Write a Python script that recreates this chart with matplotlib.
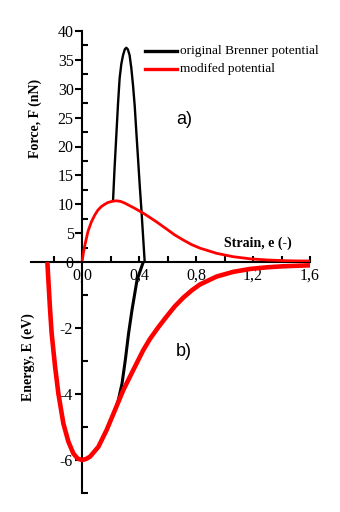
import matplotlib.pyplot as plt

# force, original Brenner
strain_fb = [0.218, 0.228, 0.241, 0.253, 0.264, 0.276, 0.288, 0.300, 0.311, 0.322,
             0.334, 0.346, 0.358, 0.370, 0.381, 0.393, 0.405, 0.417, 0.428, 0.440]
force_fb = [10.7, 16.0, 22.0, 27.5, 31.8, 34.3, 35.8, 36.8, 37.1, 36.8,
            35.8, 33.6, 30.6, 27.0, 22.6, 18.0, 13.3, 9.0, 4.7, 0.0]

# force, modified
strain_fm = [0.0, 0.01, 0.02, 0.042, 0.065, 0.089, 0.112, 0.136, 0.16, 0.182, 0.21, 0.241,
             0.27, 0.30, 0.37, 0.44, 0.52, 0.594, 0.65, 0.711, 0.77, 0.828, 0.945,
             1.06, 1.18, 1.30, 1.41, 1.50, 1.60]
force_fm = [0.0, 1.6, 2.9, 5.3, 6.9, 8.1, 9.0, 9.6, 10.0, 10.3, 10.5, 10.6,
            10.5, 10.2, 9.3, 8.3, 7.0, 5.7, 4.7, 3.8, 3.0, 2.4, 1.5,
            0.92, 0.55, 0.35, 0.24, 0.19, 0.17]

# energy, original Brenner
strain_eb = [0.232, 0.25, 0.281, 0.304, 0.327, 0.351, 0.386, 0.43]
energy_eb = [-4.48, -4.28, -3.68, -2.97, -2.16, -1.45, -0.55, 0.0]

# energy, modified
strain_em = [-0.243, -0.236, -0.224, -0.213, -0.189, -0.166, -0.131, -0.096, -0.061, -0.03,
             0.0, 0.028, 0.056, 0.115, 0.173, 0.232, 0.29, 0.36, 0.43, 0.477, 0.535,
             0.594, 0.65, 0.711, 0.77, 0.828, 0.945, 1.06, 1.18, 1.30, 1.41, 1.60]
energy_em = [0.0, -0.55, -1.45, -2.16, -3.17, -3.98, -4.89, -5.44, -5.8, -5.96,
             -6.0, -5.97, -5.9, -5.6, -5.09, -4.48, -3.88, -3.27, -2.67, -2.33, -1.98,
             -1.65, -1.35, -1.08, -0.86, -0.68, -0.44, -0.3, -0.21, -0.16, -0.13, -0.1]

xticks = [0.0, 0.4, 0.8, 1.2, 1.6]
xticklabels = ['0,0', '0,4', '0,8', '1,2', '1,6']

serif = 'Liberation Serif'

fig = plt.figure(figsize=(3.4, 5.12), dpi=100)
x0 = 30.7 / 340
w = (310 - 30.7) / 340
ax1 = fig.add_axes([x0, 1 - 262 / 512, w, 231 / 512])
ax2 = fig.add_axes([x0, 19 / 512, w, 231 / 512])
ax2.patch.set_alpha(0)

# a) force
ax1.plot(strain_fm, force_fm, color='red', lw=2.0, zorder=3)
ax1.plot(strain_fb, force_fb, color='black', lw=1.7, zorder=2)
ax1.set_xlim(-0.36, 1.6)
ax1.set_ylim(0, 40)
for s in ['top', 'right']:
    ax1.spines[s].set_visible(False)
ax1.spines['left'].set_position(('data', 0))
ax1.spines['left'].set_linewidth(1.5)
ax1.spines['bottom'].set_linewidth(1.5)
ax1.set_yticks(range(0, 41, 5))
ax1.set_yticks([2.5 + 5 * i for i in range(8)], minor=True)
ax1.set_xticks(xticks)
ax1.set_xticklabels(xticklabels)
ax1.set_xticks([-0.2, 0.2, 0.6, 1.0, 1.4], minor=True)
ax1.tick_params(axis='y', which='major', direction='out', length=5, width=1.5, pad=1,
                labelsize=11.5)
ax1.tick_params(axis='y', which='minor', direction='in', length=4, width=1.5)
ax1.tick_params(axis='x', which='both', direction='in', length=4, width=1.5, pad=4,
                labelsize=11.5)
for lab in ax1.get_xticklabels() + ax1.get_yticklabels():
    lab.set_family(serif)
ax1.text(-0.33, 24.9, 'Force, F (nN)', rotation=90, ha='center', va='center',
         family=serif, fontweight='bold', fontsize=10)
ax1.text(1.235, 3.2, 'Strain, e (-)', ha='center', va='center',
         family=serif, fontweight='bold', fontsize=10)
ax1.text(0.715, 24.6, 'a)', ha='center', va='center', family='Liberation Sans', fontsize=13)
ax1.plot([0.44, 0.665], [36.6, 36.6], color='black', lw=2.4, clip_on=False)
ax1.plot([0.44, 0.665], [33.5, 33.5], color='red', lw=2.4, clip_on=False)
ax1.text(0.685, 36.6, 'original Brenner potential', va='center', family=serif, fontsize=9.6)
ax1.text(0.685, 33.5, 'modifed potential', va='center', family=serif, fontsize=9.6)

# b) energy
ax2.plot(strain_eb, energy_eb, color='black', lw=2.2, zorder=2)
ax2.plot(strain_em, energy_em, color='red', lw=3.3, zorder=3)
ax2.set_xlim(-0.36, 1.6)
ax2.set_ylim(-7, 0)
for s in ['top', 'right', 'bottom']:
    ax2.spines[s].set_visible(False)
ax2.spines['left'].set_position(('data', 0))
ax2.spines['left'].set_linewidth(1.5)
ax2.set_xticks([])
ax2.set_yticks([-6, -4, -2])
ax2.set_yticklabels(['-6', '-4', '-2'])
ax2.set_yticks([-7, -5, -3, -1], minor=True)
ax2.tick_params(axis='y', which='major', direction='out', length=5, width=1.5, pad=2,
                labelsize=11.5)
ax2.tick_params(axis='y', which='minor', direction='in', length=4, width=1.5)
for lab in ax2.get_yticklabels():
    lab.set_family(serif)
ax2.text(-0.38, -2.88, 'Energy, E (eV)', rotation=90, ha='center', va='center',
         family=serif, fontweight='bold', fontsize=10)
ax2.text(0.715, -2.7, 'b)', ha='center', va='center', family='Liberation Sans', fontsize=13)

fig.savefig('out.png', dpi=100)
